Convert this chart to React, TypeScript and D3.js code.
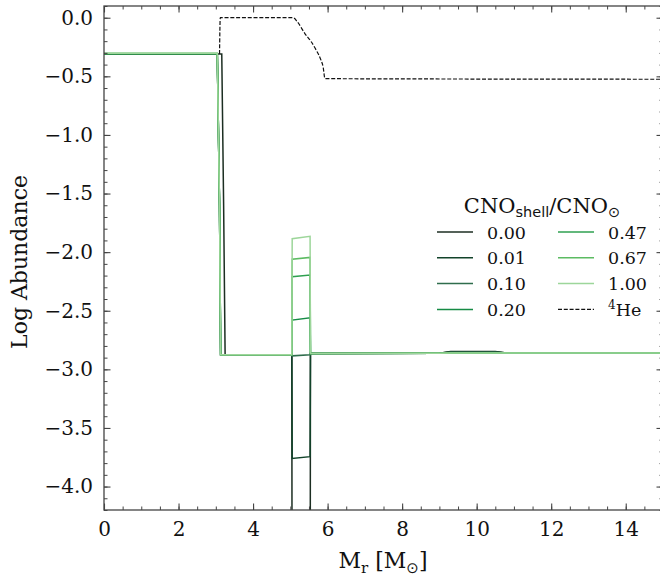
import React, { useRef, useEffect } from 'react'
import * as d3 from 'd3'

// CNO shell enrichment labels + colors (Greens)
const cnoLabels = ['0.00', '0.01', '0.10', '0.20', '0.47', '0.67', '1.00']
const cnoColors = ['#1c2e22', '#12432a', '#2f6d4c', '#168b45', '#2fa050', '#5cbb62', '#9dd69a']

// shared mass coordinates for the CNO profiles
const massCore = [0, 3.04, 3.1, 3.13, 5.04, 5.05, 5.53, 5.54, 5.6, 9.0, 9.3, 10.5, 10.8, 15]
const massCore0 = [0, 3.16, 3.21, 3.25, 5.04, 5.05, 5.53, 5.54, 5.6, 9.0, 9.3, 10.5, 10.8, 15]

// log abundance values per series
const spikeLeft = [-6.0, -3.76, -2.885, -2.58, -2.21, -2.06, -1.885]
const spikeRight = [-6.0, -3.745, -2.875, -2.56, -2.195, -2.045, -1.865]
const plateau = [-0.31, -0.31, -0.308, -0.307, -0.306, -0.305, -0.304]
const bump = [-2.848, -2.85, -2.855, -2.86, -2.86, -2.86, -2.86]

// 4He profile
const heMass = [3.1, 3.12, 5.07, 5.2, 5.39, 5.55, 5.7, 5.82, 5.88, 5.93, 15]
const heAbund = [-0.31, 0.0, 0.0, -0.04, -0.135, -0.2, -0.28, -0.36, -0.42, -0.52, -0.525]

const xTicks = [0, 2, 4, 6, 8, 10, 12, 14]
const yTicks = [0.0, -0.5, -1.0, -1.5, -2.0, -2.5, -3.0, -3.5, -4.0]

const buildSeries = (i: number) => {
  const xs = i === 0 ? massCore0 : massCore
  const ys = [
    plateau[i], plateau[i], -1.6, -2.875,
    -2.875, spikeLeft[i], spikeRight[i], -2.865,
    -2.865, -2.862, bump[i], bump[i], -2.86, -2.86
  ]
  return xs.map((x, k) => ({ x, y: ys[k] }))
}

const Chart = () => {
  const svgRef = useRef(null)
  const width = 660
  const height = 583
  const margin = { left: 104, top: 6, right: -3, bottom: 73 }
  const w = width - margin.left - margin.right
  const h = height - margin.top - margin.bottom

  useEffect(() => {
    document.body.style.margin = '0'
    const font = 'DejaVu Serif'
    const x = d3.scaleLinear().domain([0, 15]).range([0, w])
    const y = d3.scaleLinear().domain([-4.2, 0.1]).range([h, 0])

    const svgEl = d3.select(svgRef.current)
    svgEl.selectAll('*').remove()
    const svg = svgEl.append('g').attr('transform', `translate(${margin.left},${margin.top})`)

    svg.append('clipPath').attr('id', 'plotclip')
      .append('rect').attr('width', w).attr('height', h)

    const line = d3.line<{ x: number; y: number }>()
      .x(d => x(d.x))
      .y(d => y(d.y))

    const plot = svg.append('g').attr('clip-path', 'url(#plotclip)')
    cnoLabels.forEach((_, i) => {
      plot.append('path')
        .attr('fill', 'none')
        .attr('stroke', cnoColors[i])
        .attr('stroke-width', 1.5)
        .attr('d', line(buildSeries(i)))
    })
    plot.append('path')
      .attr('fill', 'none')
      .attr('stroke', '#111')
      .attr('stroke-width', 1.2)
      .attr('stroke-dasharray', '4,1.8')
      .attr('d', line.curve(d3.curveMonotoneX)(heMass.map((m, k) => ({ x: m, y: heAbund[k] }))))

    // axes, ticks pointing inward on all four sides
    const tickCol = '#444'
    const xAxes = [
      { ax: () => d3.axisBottom(x), tr: `translate(0,${h})`, labels: true },
      { ax: () => d3.axisTop(x), tr: 'translate(0,0)', labels: false },
    ]
    const xMinor = d3.range(0, 31).map(v => v / 2)
    xAxes.forEach(a => {
      const g = svg.append('g').attr('transform', a.tr)
      g.call(a.ax().tickValues(xMinor).tickSize(-3.5).tickFormat(() => ''))
      g.select('.domain').remove()
      g.selectAll('line').attr('stroke', tickCol)
      const gm = svg.append('g').attr('transform', a.tr)
      gm.call(a.ax().tickValues(xTicks).tickSize(-6.5).tickPadding(12)
        .tickFormat(d => (a.labels ? d3.format('d')(d as number) : '')))
      gm.select('.domain').remove()
      gm.selectAll('line').attr('stroke', tickCol).attr('stroke-width', 1.1)
      gm.selectAll('text').attr('font-family', font).attr('font-size', 20).attr('fill', '#111')
    })
    const yMinor = d3.range(-42, 2).map(v => v / 10)
    const yAxes = [
      { ax: () => d3.axisLeft(y), tr: 'translate(0,0)', labels: true },
      { ax: () => d3.axisRight(y), tr: `translate(${w},0)`, labels: false },
    ]
    yAxes.forEach(a => {
      const g = svg.append('g').attr('transform', a.tr)
      g.call(a.ax().tickValues(yMinor).tickSize(-3.5).tickFormat(() => ''))
      g.select('.domain').remove()
      g.selectAll('line').attr('stroke', tickCol)
      const gm = svg.append('g').attr('transform', a.tr)
      gm.call(a.ax().tickValues(yTicks).tickSize(-6.5).tickPadding(11)
        .tickFormat(d => (a.labels ? d3.format('.1f')(d as number).replace('-', '\u2212') : '')))
      gm.select('.domain').remove()
      gm.selectAll('line').attr('stroke', tickCol).attr('stroke-width', 1.1)
      gm.selectAll('text').attr('font-family', font).attr('font-size', 20).attr('fill', '#111')
    })

    svg.append('rect')
      .attr('width', w).attr('height', h)
      .attr('fill', 'none').attr('stroke', '#444').attr('stroke-width', 1.3)

    // axis labels
    const xl = svg.append('text')
      .attr('x', 279).attr('y', h + 58)
      .attr('text-anchor', 'middle')
      .attr('font-family', font).attr('font-size', 22).attr('fill', '#111')
    xl.append('tspan').text('M')
    xl.append('tspan').text('r').attr('font-size', 15).attr('dy', 5)
    xl.append('tspan').text(' [M').attr('dy', -5)
    xl.append('tspan').text('\u2299').attr('font-family', 'DejaVu Sans').attr('font-size', 15).attr('dy', 5)
    xl.append('tspan').text(']').attr('dy', -5)

    svg.append('text')
      .attr('transform', `translate(${-77},${256}) rotate(-90)`)
      .attr('text-anchor', 'middle')
      .attr('font-family', font).attr('font-size', 22).attr('fill', '#111')
      .text('Log Abundance')

    // legend
    const lg = svg.append('g').attr('transform', `translate(${437 - margin.left},${0})`)
    const title = lg.append('text')
      .attr('x', 105).attr('y', 207)
      .attr('text-anchor', 'middle')
      .attr('font-family', font).attr('font-size', 21).attr('fill', '#111')
    title.append('tspan').text('CNO')
    title.append('tspan').text('shell').attr('font-family', 'DejaVu Sans').attr('font-size', 14.5).attr('dy', 4)
    title.append('tspan').text('/CNO').attr('dy', -4)
    title.append('tspan').text('\u2299').attr('font-family', 'DejaVu Sans').attr('font-size', 14.5).attr('dy', 4)

    const entries = [
      ...cnoLabels.map((l, i) => ({ label: l, color: cnoColors[i], dash: null as string | null })),
      { label: 'He', color: '#111', dash: '4,1.8' },
    ]
    entries.forEach((e, i) => {
      const col = Math.floor(i / 4)
      const row = i % 4
      const gx = col * 121
      const gy = 226 + row * 25.8
      lg.append('line')
        .attr('x1', gx).attr('x2', gx + 36)
        .attr('y1', gy).attr('y2', gy)
        .attr('stroke', e.color).attr('stroke-width', e.dash ? 1.2 : 1.5)
        .attr('stroke-dasharray', e.dash)
      const t = lg.append('text')
        .attr('x', gx + 50).attr('y', gy + 6.5)
        .attr('font-family', font).attr('font-size', 17.5).attr('fill', '#111')
      if (e.dash) {
        t.append('tspan').text('4').attr('font-size', 12).attr('dy', -7)
        t.append('tspan').text('He').attr('dy', 7)
      } else {
        t.text(e.label)
      }
    })
  }, [])

  return <svg ref={svgRef} width={width} height={height} style={{ display: 'block' }} />
}

export default function App() {
  return <Chart />
}
